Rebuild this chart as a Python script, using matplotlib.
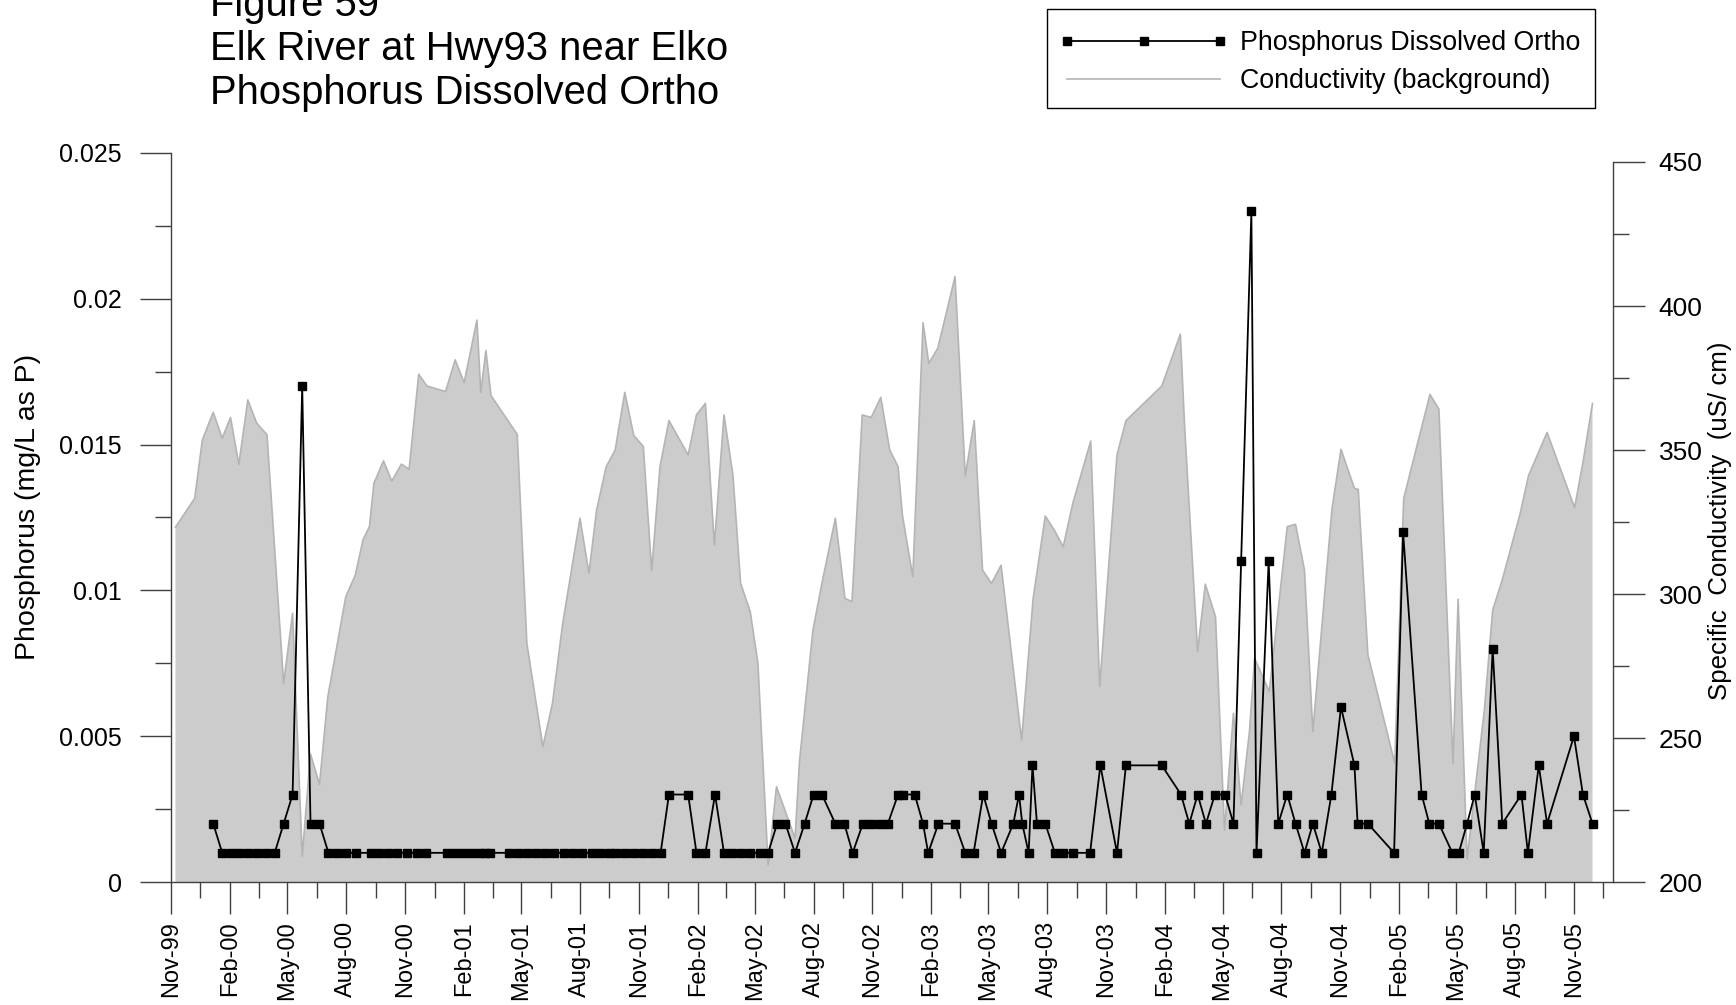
import matplotlib
matplotlib.use('Agg')
import matplotlib.pyplot as plt
import matplotlib.dates as mdates
from matplotlib.lines import Line2D
from matplotlib.patches import Rectangle
import numpy as np
import pandas as pd

plt.rcParams['font.family'] = ['Liberation Sans', 'DejaVu Sans']

# ---------------- data ----------------
phos_dates = [
    '2000-01-06', '2000-01-20', '2000-02-02', '2000-02-16', '2000-03-01', '2000-03-15', '2000-03-29',
    '2000-04-11', '2000-04-25', '2000-05-09', '2000-05-24', '2000-06-06', '2000-06-20', '2000-07-04',
    '2000-07-18', '2000-08-01', '2000-08-16', '2000-09-08', '2000-09-21', '2000-10-05', '2000-10-19',
    '2000-11-03', '2000-11-19', '2000-12-04', '2001-01-05', '2001-01-17', '2001-01-30', '2001-02-12',
    '2001-02-24', '2001-03-05', '2001-03-14', '2001-04-12', '2001-04-26', '2001-05-10', '2001-05-25',
    '2001-06-08', '2001-06-22', '2001-07-07', '2001-07-21', '2001-08-04', '2001-08-19', '2001-09-02',
    '2001-09-16', '2001-09-27', '2001-10-10', '2001-10-24', '2001-11-08', '2001-11-22', '2001-12-05',
    '2001-12-18', '2002-01-17', '2002-01-30', '2002-02-13', '2002-02-28', '2002-03-14', '2002-03-27',
    '2002-04-10', '2002-04-24', '2002-05-09', '2002-05-22', '2002-06-05', '2002-06-18', '2002-07-03',
    '2002-07-18', '2002-08-01', '2002-08-14', '2002-09-04', '2002-09-18', '2002-10-01', '2002-10-17',
    '2002-10-30', '2002-11-13', '2002-11-25', '2002-12-11', '2002-12-18', '2003-01-06', '2003-01-19',
    '2003-01-27', '2003-02-12', '2003-03-10', '2003-03-26', '2003-04-08', '2003-04-23', '2003-05-06',
    '2003-05-21', '2003-06-09', '2003-06-18', '2003-06-23', '2003-07-03', '2003-07-09', '2003-07-16',
    '2003-07-29', '2003-08-13', '2003-08-26', '2003-09-10', '2003-10-07', '2003-10-23', '2003-11-18',
    '2003-12-02', '2004-01-27', '2004-02-26', '2004-03-10', '2004-03-23', '2004-04-05', '2004-04-19',
    '2004-05-05', '2004-05-18', '2004-05-30', '2004-06-15', '2004-06-23', '2004-07-12', '2004-07-27',
    '2004-08-10', '2004-08-23', '2004-09-06', '2004-09-19', '2004-10-03', '2004-10-18', '2004-11-02',
    '2004-11-23', '2004-11-28', '2004-12-14', '2005-01-24', '2005-02-07', '2005-03-08', '2005-03-20',
    '2005-04-04', '2005-04-25', '2005-05-05', '2005-05-18', '2005-05-30', '2005-06-13', '2005-06-27',
    '2005-07-12', '2005-08-11', '2005-08-21', '2005-09-07', '2005-09-20', '2005-11-01', '2005-11-15',
    '2005-11-30',
]
phos_values = [
    0.002, 0.001, 0.001, 0.001, 0.001, 0.001, 0.001,
    0.001, 0.002, 0.003, 0.017, 0.002, 0.002, 0.001,
    0.001, 0.001, 0.001, 0.001, 0.001, 0.001, 0.001,
    0.001, 0.001, 0.001, 0.001, 0.001, 0.001, 0.001,
    0.001, 0.001, 0.001, 0.001, 0.001, 0.001, 0.001,
    0.001, 0.001, 0.001, 0.001, 0.001, 0.001, 0.001,
    0.001, 0.001, 0.001, 0.001, 0.001, 0.001, 0.001,
    0.003, 0.003, 0.001, 0.001, 0.003, 0.001, 0.001,
    0.001, 0.001, 0.001, 0.001, 0.002, 0.002, 0.001,
    0.002, 0.003, 0.003, 0.002, 0.002, 0.001, 0.002,
    0.002, 0.002, 0.002, 0.003, 0.003, 0.003, 0.002,
    0.001, 0.002, 0.002, 0.001, 0.001, 0.003, 0.002,
    0.001, 0.002, 0.003, 0.002, 0.001, 0.004, 0.002,
    0.002, 0.001, 0.001, 0.001, 0.001, 0.004, 0.001,
    0.004, 0.004, 0.003, 0.002, 0.003, 0.002, 0.003,
    0.003, 0.002, 0.011, 0.023, 0.001, 0.011, 0.002,
    0.003, 0.002, 0.001, 0.002, 0.001, 0.003, 0.006,
    0.004, 0.002, 0.002, 0.001, 0.012, 0.003, 0.002,
    0.002, 0.001, 0.001, 0.002, 0.003, 0.001, 0.008,
    0.002, 0.003, 0.001, 0.004, 0.002, 0.005, 0.003,
    0.002,
]

cond_dates = [
    '1999-11-08', '1999-12-08', '1999-12-20', '2000-01-06', '2000-01-20', '2000-02-02', '2000-02-15',
    '2000-02-29', '2000-03-14', '2000-03-30', '2000-04-25', '2000-05-09', '2000-05-24', '2000-06-06',
    '2000-06-20', '2000-07-03', '2000-07-31', '2000-08-15', '2000-08-27', '2000-09-06', '2000-09-13',
    '2000-09-28', '2000-10-11', '2000-10-26', '2000-11-07', '2000-11-22', '2000-12-05', '2001-01-03',
    '2001-01-18', '2001-02-01', '2001-02-21', '2001-02-27', '2001-03-07', '2001-03-15', '2001-04-25',
    '2001-05-10', '2001-06-04', '2001-06-19', '2001-07-05', '2001-08-01', '2001-08-15', '2001-08-27',
    '2001-09-11', '2001-09-25', '2001-10-10', '2001-10-24', '2001-11-08', '2001-11-21', '2001-12-04',
    '2001-12-18', '2002-01-17', '2002-01-30', '2002-02-13', '2002-02-27', '2002-03-14', '2002-03-28',
    '2002-04-09', '2002-04-24', '2002-05-06', '2002-05-22', '2002-06-04', '2002-07-03', '2002-07-10',
    '2002-07-31', '2002-08-14', '2002-09-04', '2002-09-19', '2002-09-30', '2002-10-16', '2002-10-30',
    '2002-11-14', '2002-11-28', '2002-12-11', '2002-12-18', '2003-01-03', '2003-01-19', '2003-01-28',
    '2003-02-11', '2003-03-10', '2003-03-26', '2003-04-09', '2003-04-22', '2003-05-06', '2003-05-21',
    '2003-06-22', '2003-07-10', '2003-07-29', '2003-08-12', '2003-08-26', '2003-09-10', '2003-10-08',
    '2003-10-22', '2003-11-18', '2003-12-02', '2004-01-27', '2004-02-25', '2004-03-03', '2004-03-23',
    '2004-04-04', '2004-04-20', '2004-05-04', '2004-05-18', '2004-05-30', '2004-06-12', '2004-06-20',
    '2004-07-13', '2004-08-10', '2004-08-23', '2004-09-06', '2004-09-19', '2004-10-19', '2004-11-02',
    '2004-11-23', '2004-11-29', '2004-12-14', '2005-01-25', '2005-02-08', '2005-03-21', '2005-04-04',
    '2005-04-26', '2005-05-04', '2005-05-18', '2005-06-14', '2005-06-27', '2005-07-12', '2005-08-09',
    '2005-08-22', '2005-09-20', '2005-11-02', '2005-11-15', '2005-11-30',
]
cond_values = [
    323.2, 333.2, 353.5, 363.1, 354.1, 361.3, 345.0,
    367.4, 359.3, 355.3, 269.0, 293.3, 209.0, 244.4,
    233.9, 264.3, 299.0, 306.6, 318.8, 323.4, 338.4,
    346.2, 339.2, 345.1, 343.3, 376.3, 372.2, 370.3,
    381.3, 373.4, 395.1, 370.1, 384.5, 368.9, 355.4,
    282.9, 247.0, 262.0, 289.8, 326.3, 307.2, 329.2,
    344.2, 350.0, 370.0, 355.1, 351.2, 308.1, 344.2,
    360.2, 348.3, 362.2, 366.2, 317.0, 362.2, 341.3,
    303.7, 293.9, 276.0, 205.9, 233.1, 215.2, 242.0,
    287.5, 303.7, 326.3, 298.5, 297.3, 362.2, 361.3,
    368.3, 350.0, 344.2, 327.1, 306.0, 394.2, 380.1,
    385.3, 410.2, 341.0, 360.2, 308.3, 303.7, 310.0,
    249.3, 298.5, 327.1, 322.2, 316.4, 331.5, 353.1,
    267.8, 348.3, 360.2, 372.2, 390.2, 357.0, 280.0,
    303.4, 292.1, 218.0, 258.6, 226.7, 252.2, 277.7,
    266.1, 323.4, 324.2, 308.3, 252.2, 329.7, 350.2,
    336.7, 336.3, 279.0, 241.2, 333.2, 369.3, 364.2,
    241.2, 298.2, 208.0, 259.7, 294.4, 304.9, 328.0,
    341.1, 356.1, 330.0, 345.6, 366.2,
]

x_tick_labels = ['Nov-99', 'Feb-00', 'May-00', 'Aug-00', 'Nov-00', 'Feb-01', 'May-01', 'Aug-01',
                 'Nov-01', 'Feb-02', 'May-02', 'Aug-02', 'Nov-02', 'Feb-03', 'May-03', 'Aug-03',
                 'Nov-03', 'Feb-04', 'May-04', 'Aug-04', 'Nov-04', 'Feb-05', 'May-05', 'Aug-05',
                 'Nov-05']
left_ticks = [0, 0.005, 0.01, 0.015, 0.02, 0.025]
left_tick_labels = ['0', '0.005', '0.01', '0.015', '0.02', '0.025']
right_ticks = [200, 250, 300, 350, 400, 450]
right_tick_labels = ['200', '250', '300', '350', '400', '450']

title_lines = ['Figure 59', 'Elk River at Hwy93 near Elko', 'Phosphorus Dissolved Ortho']
legend_labels = ['Phosphorus Dissolved Ortho', 'Conductivity (background)']

# ---------------- figure ----------------
W, H = 1736, 1005
fig = plt.figure(figsize=(W / 100, H / 100), dpi=100)
fig.patch.set_facecolor('white')

ax_l, ax_r, ax_b, ax_t = 171, 1613, 882, 153
ax_c = fig.add_axes([ax_l / W, (H - ax_b) / H, (ax_r - ax_l) / W, (ax_b - ax_t) / H])
ax_p = ax_c.twinx()
ax_c.set_zorder(1)
ax_p.set_zorder(2)
ax_p.patch.set_visible(False)

pd_cond = pd.to_datetime(cond_dates)
pd_phos = pd.to_datetime(phos_dates)

axis_col = '#404040'

# conductivity background
ax_c.fill_between(pd_cond, cond_values, 200, facecolor='#CCCCCC', edgecolor='none', linewidth=0)
ax_c.plot(pd_cond, cond_values, color='#B4B4B4', linewidth=1.2)
right_top = 200 + 250 * (ax_b - ax_t) / (ax_b - 162)
ax_c.set_ylim(200, right_top)
ax_c.yaxis.tick_right()
ax_c.set_yticks(right_ticks)
ax_c.set_yticklabels(right_tick_labels)
ax_c.set_yticks([225, 275, 325, 375, 425], minor=True)

# phosphorus
ax_p.plot(pd_phos, phos_values, color='black', linewidth=1.3, marker='s', markersize=6.3,
          markerfacecolor='black', markeredgecolor='black')
ax_p.set_ylim(0, 0.025)
ax_p.yaxis.tick_left()
ax_p.set_yticks(left_ticks)
ax_p.set_yticklabels(left_tick_labels)
ax_p.set_yticks([0.0025, 0.0075, 0.0125, 0.0175, 0.0225], minor=True)

# x axis
tick_dates = pd.to_datetime(x_tick_labels, format='%b-%y')
ax_c.set_xlim(pd.Timestamp('1999-11-01'), pd.Timestamp('2006-01-01'))
maj = mdates.date2num(tick_dates)
ext = np.append(maj, mdates.date2num(pd.Timestamp('2006-02-01')))
minor = (ext[:-1] + ext[1:]) / 2
ax_c.set_xticks(maj)
ax_c.set_xticklabels(x_tick_labels, rotation=90, fontsize=17)
ax_c.set_xticks(minor, minor=True)

# spines
for a in (ax_c, ax_p):
    for s in a.spines.values():
        s.set_visible(False)
ax_c.spines['bottom'].set_visible(True)
ax_c.spines['bottom'].set_color(axis_col)
ax_c.spines['bottom'].set_linewidth(1.0)
ax_c.spines['right'].set_visible(True)
ax_c.spines['right'].set_color(axis_col)
ax_c.spines['right'].set_linewidth(1.0)
ax_c.spines['right'].set_bounds(200, 450)
ax_p.spines['left'].set_visible(True)
ax_p.spines['left'].set_color(axis_col)
ax_p.spines['left'].set_linewidth(1.0)

ax_c.tick_params(axis='x', which='major', direction='out', length=23, width=1.0, color=axis_col,
                 pad=5, labelsize=17)
ax_c.tick_params(axis='x', which='minor', direction='out', length=11.5, width=1.0, color=axis_col)
ax_c.tick_params(axis='y', which='major', direction='out', length=23, width=1.0, color=axis_col,
                 pad=10, labelsize=19, right=True, left=False)
ax_c.tick_params(axis='y', which='minor', direction='out', length=11.5, width=1.0, color=axis_col,
                 right=True, left=False)
ax_p.tick_params(axis='y', which='major', direction='out', length=22.5, width=1.0, color=axis_col,
                 pad=13, labelsize=18, left=True, right=False)
ax_p.tick_params(axis='y', which='minor', direction='out', length=11.5, width=1.0, color=axis_col,
                 left=True, right=False)
ax_p.tick_params(axis='x', which='both', bottom=False, labelbottom=False)

# axis labels
fig.text(28.5 / W, 1 - 507 / H, 'Phosphorus (mg/L as P)', rotation=90, ha='center', va='center',
         fontsize=20.5)
fig.text(1720 / W, 1 - 521 / H, 'Specific  Conductivity  (uS/ cm)', rotation=90, ha='center',
         va='center', fontsize=18.6)

# title
for line, base in zip(title_lines, [16, 60, 104]):
    fig.text(210 / W, 1 - base / H, line, ha='left', va='baseline', fontsize=28.8)

# legend (frame drawn as a separate rectangle)
handles = [
    Line2D([], [], color='black', linewidth=1.3, marker='s', markersize=6,
           markerfacecolor='black', markeredgecolor='black'),
    Line2D([], [], color='#BBBBBB', linewidth=1.3),
]
fig.legend(handles, legend_labels, loc='upper left', bbox_to_anchor=(1042.5 / W, 1 - 13.5 / H),
           bbox_transform=fig.transFigure, frameon=False, fontsize=19.3,
           handlelength=6.3, handletextpad=0.45, borderpad=0.62, labelspacing=0.45,
           numpoints=3, borderaxespad=0)
fig.add_artist(Rectangle((1047 / W, 1 - 108.5 / H), (1595 - 1047) / W, (108.5 - 9) / H,
                         transform=fig.transFigure, facecolor='none', edgecolor='black',
                         linewidth=1.0))

fig.savefig('out.png', dpi=100, facecolor='white')
